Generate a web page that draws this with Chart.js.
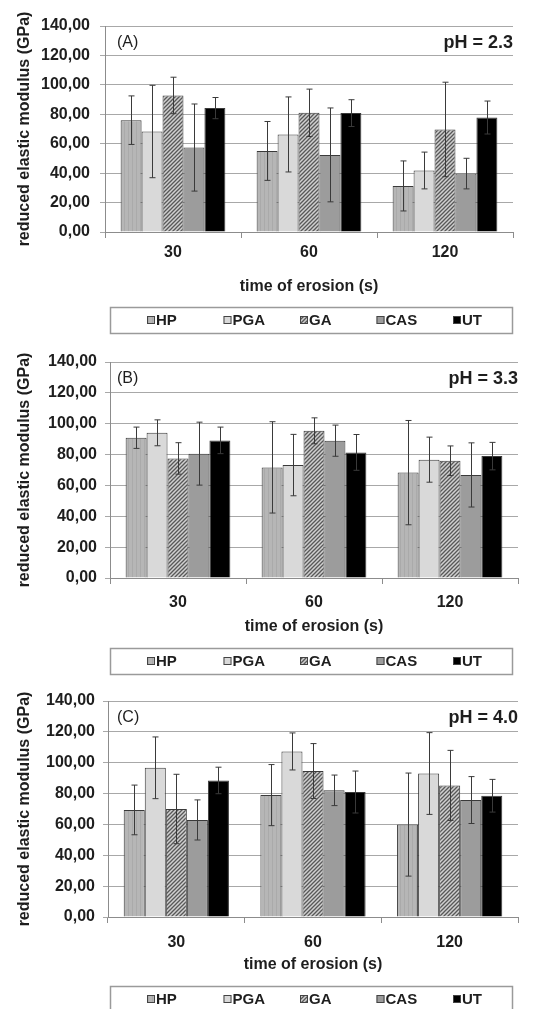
<!DOCTYPE html>
<html>
<head>
<meta charset="utf-8">
<script src="https://cdn.jsdelivr.net/npm/chart.js@4.4.0/dist/chart.umd.min.js"></script>
<style>
  body { margin: 0; background: #fff; width: 537px; height: 1009px; overflow: hidden; position: relative; }
  canvas { position: absolute; left: 0; }
</style>
</head>
<body>
<canvas id="chartA" width="537" height="336" style="top:0px"></canvas>
<canvas id="chartB" width="537" height="340" style="top:336px"></canvas>
<canvas id="chartC" width="537" height="337" style="top:672px"></canvas>
<script>
// categories / series / ticks
const categories = ['30', '60', '120'];
const seriesNames = ['HP', 'PGA', 'GA', 'CAS', 'UT'];
const yTickValues = [0, 20, 40, 60, 80, 100, 120, 140];

// (A) pH = 2.3
const hpA = [76.0, 55.1, 31.3];
const pgaA = [68.3, 66.3, 41.8];
const gaA = [92.8, 81.0, 69.7];
const casA = [57.4, 52.4, 39.7];
const utA = [84.2, 80.8, 77.8];
const hpErrA = [16.5, 20.0, 17.0];
const pgaErrA = [31.4, 25.5, 12.5];
const gaErrA = [12.4, 16.1, 32.1];
const casErrA = [29.6, 31.9, 10.4];
const utErrA = [7.2, 9.1, 11.2];

// (B) pH = 3.3
const hpB = [90.9, 71.7, 68.3];
const pgaB = [94.1, 73.2, 76.7];
const gaB = [77.5, 95.4, 76.0];
const casB = [80.6, 89.0, 66.8];
const utB = [89.2, 81.4, 79.0];
const hpErrB = [6.9, 29.6, 33.8];
const pgaErrB = [8.4, 19.9, 14.6];
const gaErrB = [10.2, 8.4, 9.6];
const casErrB = [20.4, 10.1, 20.8];
const utErrB = [8.6, 11.6, 8.9];

// (C) pH = 4.0
const hpC = [69.4, 79.0, 59.9];
const pgaC = [96.7, 107.3, 93.0];
const gaC = [70.0, 94.6, 85.3];
const casC = [62.9, 82.1, 75.8];
const utC = [88.5, 81.0, 78.6];
const hpErrC = [16.1, 19.8, 33.4];
const pgaErrC = [20.0, 12.0, 26.5];
const gaErrC = [22.5, 17.8, 22.7];
const casErrC = [13.0, 9.9, 15.2];
const utErrC = [8.6, 13.6, 10.6];

const FONT = "'Liberation Sans', Arial, sans-serif";
const TEXT = '#1e1e1e';

// bar fills
function makeFill(kind) {
  if (kind === 'PGA') return '#d9d9d9';
  if (kind === 'CAS') return '#9c9c9c';
  if (kind === 'UT') return '#000000';
  const c = document.createElement('canvas');
  c.width = 4; c.height = 4;
  const g = c.getContext('2d');
  if (kind === 'HP') {
    g.fillStyle = '#b6b6b6';
    g.fillRect(0, 0, 4, 4);
    g.fillStyle = '#aaaaaa';
    g.fillRect(0, 0, 1, 4);
  } else {
    // GA: dense "////" hatch
    g.fillStyle = '#d0d0d0';
    g.fillRect(0, 0, 4, 4);
    g.strokeStyle = '#585858';
    g.lineWidth = 1.3;
    g.beginPath();
    g.moveTo(0, 4); g.lineTo(4, 0);
    g.moveTo(-1, 1); g.lineTo(1, -1);
    g.moveTo(3, 5); g.lineTo(5, 3);
    g.stroke();
  }
  return g.createPattern(c, 'repeat');
}

const errorBars = {
  id: 'errorBars',
  afterDatasetsDraw(chart) {
    const ctx = chart.ctx;
    const yScale = chart.scales.y;
    ctx.save();
    ctx.strokeStyle = '#3a3a3a';
    ctx.lineWidth = 1;
    chart.data.datasets.forEach((ds, i) => {
      const meta = chart.getDatasetMeta(i);
      meta.data.forEach((bar, j) => {
        const v = ds.data[j], e = ds.errors[j];
        const x = Math.round(bar.x) + 0.5;
        const yt = yScale.getPixelForValue(v + e);
        const yb = yScale.getPixelForValue(v - e);
        ctx.beginPath();
        ctx.moveTo(x, yt); ctx.lineTo(x, yb);
        ctx.moveTo(x - 3, yt); ctx.lineTo(x + 3, yt);
        ctx.moveTo(x - 3, yb); ctx.lineTo(x + 3, yb);
        ctx.stroke();
      });
    });
    ctx.restore();
  }
};

const panelText = {
  id: 'panelText',
  afterDraw(chart, args, opts) {
    const ctx = chart.ctx;
    const area = chart.chartArea;
    const y = area.top + 17;
    ctx.save();
    ctx.fillStyle = TEXT;
    ctx.textBaseline = 'middle';
    ctx.font = '16px ' + FONT;
    ctx.textAlign = 'left';
    ctx.fillText(opts.tag, 117, y);
    ctx.font = 'bold 18px ' + FONT;
    ctx.textAlign = 'right';
    ctx.fillText(opts.ph, area.right, y);
    ctx.restore();
  }
};

const boxLegend = {
  id: 'boxLegend',
  afterDraw(chart, args, opts) {
    const ctx = chart.ctx;
    const top = opts.top, h = 26;
    ctx.save();
    ctx.strokeStyle = '#9a9a9a';
    ctx.lineWidth = 1.5;
    ctx.strokeRect(110.5, top + 0.5, 402, h);
    ctx.font = 'bold 15px ' + FONT;
    ctx.textBaseline = 'middle';
    ctx.textAlign = 'left';
    const cy = top + h / 2 + 0.5;
    chart.data.datasets.forEach((ds, i) => {
      const x = 147 + i * 76.5;
      ctx.fillStyle = ds.backgroundColor;
      ctx.fillRect(x, cy - 4.5, 8, 8);
      ctx.strokeStyle = '#444';
      ctx.lineWidth = 1;
      ctx.strokeRect(x + 0.5, cy - 4, 7, 7);
      ctx.fillStyle = TEXT;
      ctx.fillText(ds.label, x + 9, cy + 0.5);
    });
    ctx.restore();
  }
};

function drawPanel(id, values, errs, p) {
  const ctx = document.getElementById(id).getContext('2d');
  new Chart(ctx, {
    type: 'bar',
    data: {
      labels: categories,
      datasets: seriesNames.map((name, i) => ({
        label: name,
        data: values[i],
        errors: errs[i],
        backgroundColor: makeFill(name),
        borderColor: '#3a3a3a',
        borderWidth: 1,
        categoryPercentage: 0.77,
        barPercentage: 1.0
      }))
    },
    options: {
      responsive: false,
      animation: false,
      events: [],
      layout: {
        padding: { left: 0, top: p.padTop, right: 537 - p.right, bottom: p.padBottom }
      },
      plugins: {
        legend: { display: false },
        tooltip: { enabled: false },
        panelText: { tag: p.tag, ph: p.ph },
        boxLegend: { top: p.legendTop }
      },
      scales: {
        x: {
          grid: { drawOnChartArea: false, tickLength: 6, color: '#8c8c8c' },
          border: { color: '#8c8c8c' },
          ticks: { color: TEXT, padding: p.xPad, font: { family: FONT, size: 16, weight: 'bold' } },
          title: {
            display: true,
            text: 'time of erosion (s)',
            color: TEXT,
            padding: { top: 0, bottom: 0 },
            font: { family: FONT, size: 16, weight: 'bold' }
          },
          afterFit(scale) { scale.height = p.xHeight; }
        },
        y: {
          min: yTickValues[0],
          max: yTickValues[yTickValues.length - 1],
          grid: { color: '#a8a8a8', tickLength: 5 },
          border: { color: '#8c8c8c' },
          ticks: {
            stepSize: yTickValues[1] - yTickValues[0],
            color: TEXT,
            padding: p.yPad,
            font: { family: FONT, size: 16, weight: 'bold' },
            callback: v => v.toFixed(2).replace('.', ',')
          },
          title: {
            display: true,
            text: 'reduced elastic modulus (GPa)',
            color: TEXT,
            padding: { top: 15.4, bottom: 0 },
            font: { family: FONT, size: 16, weight: 'bold' }
          },
          afterFit(scale) { scale.width = p.left; }
        }
      }
    },
    plugins: [errorBars, panelText, boxLegend]
  });
}

drawPanel('chartA',
  [hpA, pgaA, gaA, casA, utA],
  [hpErrA, pgaErrA, gaErrA, casErrA, utErrA],
  { tag: '(A)', ph: 'pH = 2.3', left: 105, right: 513, padTop: 26, padBottom: 39.4,
    xHeight: 64.6, xPad: 5.4, yPad: 10, legendTop: 307 });

drawPanel('chartB',
  [hpB, pgaB, gaB, casB, utB],
  [hpErrB, pgaErrB, gaErrB, casErrB, utErrB],
  { tag: '(B)', ph: 'pH = 3.3', left: 110, right: 518, padTop: 26, padBottom: 39.4,
    xHeight: 58.6, xPad: 9.4, yPad: 8, legendTop: 312 });

drawPanel('chartC',
  [hpC, pgaC, gaC, casC, utC],
  [hpErrC, pgaErrC, gaErrC, casErrC, utErrC],
  { tag: '(C)', ph: 'pH = 4.0', left: 108, right: 518, padTop: 29, padBottom: 34.4,
    xHeight: 57.6, xPad: 10.4, yPad: 8, legendTop: 314 });
</script>
</body>
</html>
